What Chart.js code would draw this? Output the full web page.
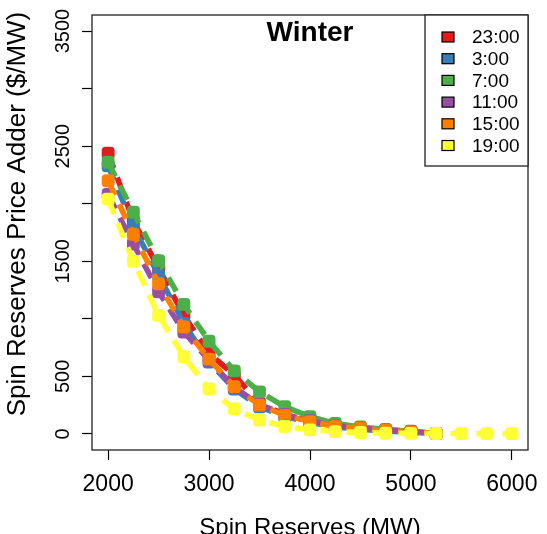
<!DOCTYPE html>
<html>
<head>
<meta charset="utf-8">
<script src="https://cdn.jsdelivr.net/npm/chart.js@4/dist/chart.umd.min.js"></script>
<style>
  html, body { margin: 0; padding: 0; background: #fff; }
  #wrap { width: 547px; height: 534px; position: relative; }
</style>
</head>
<body>
<div id="wrap"><canvas id="chart"></canvas></div>
<script>
// data
const reserves = [2000, 2250, 2500, 2750, 3000, 3250, 3500, 3750, 4000, 4250, 4500, 4750, 5000, 5250, 5500, 5750, 6000];
const hour2300 = [2440, 1850, 1440, 1030, 700, 510, 265, 170, 110, 70, 45, 30, 18, 3];
const hour0300 = [2330, 1800, 1380, 960, 625, 390, 235, 150, 100, 60, 40, 25, 15, 3];
const hour0700 = [2360, 1926, 1505, 1125, 805, 548, 365, 237, 150, 90, 60, 38, 22, 3];
const hour1100 = [2080, 1650, 1235, 885, 640, 405, 255, 170, 115, 70, 50, 35, 24, 3];
const hour1500 = [2200, 1735, 1305, 930, 650, 410, 250, 160, 107, 65, 48, 32, 18, 3];
const hour1900 = [2040, 1500, 1030, 670, 390, 216, 120, 65, 35, 20, 12, 6, 4, 3, 2, 2, 2];

const seriesNames = ['23:00', '3:00', '7:00', '11:00', '15:00', '19:00'];
const seriesValues = [hour2300, hour0300, hour0700, hour1100, hour1500, hour1900];
const seriesColors = ['#E41A1C', '#377EB8', '#4DAF4A', '#984EA3', '#FF7F00', '#FFFF33'];

const xTicks = [2000, 3000, 4000, 5000, 6000];
const yTicks = [0, 500, 1000, 1500, 2000, 2500, 3000, 3500];
const yTickLabels = ['0', '500', '', '1500', '', '2500', '', '3500'];

const FONT = '"Liberation Sans", Arial, sans-serif';

function toPoints(vals) {
    return vals.map((v, i) => ({x: reserves[i], y: v}));
}

const datasets = seriesValues.map((vals, i) => ({
    label: seriesNames[i],
    data: toPoints(vals),
    borderColor: seriesColors[i],
    backgroundColor: seriesColors[i],
    borderWidth: 5.5,
    borderDash: [16, 10],
    pointStyle: 'rectRounded',
    pointRadius: 7.5,
    pointBorderWidth: 0,
    pointBackgroundColor: seriesColors[i],
    tension: 0,
    order: -i // later series on top, like R
}));

// box round the plot, title inside it, y title and the legend in the corner
const rPlotBits = {
    id: 'rPlotBits',
    afterDraw(chart) {
        const {ctx, chartArea: a} = chart;
        ctx.save();
        ctx.strokeStyle = '#222';
        ctx.lineWidth = 1.3;
        ctx.strokeRect(a.left, a.top, a.right - a.left, a.bottom - a.top);

        ctx.fillStyle = '#000';
        ctx.font = 'bold 28px ' + FONT;
        ctx.textAlign = 'center';
        ctx.textBaseline = 'middle';
        ctx.fillText('Winter', (a.left + a.right) / 2, a.top + 18);

        // y axis title
        ctx.save();
        ctx.translate(18, 214);
        ctx.rotate(-Math.PI / 2);
        ctx.font = '26px ' + FONT;
        ctx.fillText('Spin Reserves Price Adder ($/MW)', 0, 0);
        ctx.restore();

        // legend
        const lx = 425, ly = a.top, lw = a.right - lx, lh = 151;
        ctx.fillStyle = '#fff';
        ctx.fillRect(lx, ly, lw, lh);
        ctx.strokeRect(lx, ly, lw, lh);
        ctx.font = '19px ' + FONT;
        ctx.textAlign = 'left';
        seriesNames.forEach((name, i) => {
            const cy = ly + 22 + i * 21.7;
            ctx.fillStyle = seriesColors[i];
            ctx.fillRect(442, cy - 5, 12, 10);
            ctx.strokeStyle = '#000';
            ctx.lineWidth = 1.2;
            ctx.strokeRect(442, cy - 5, 12, 10);
            ctx.fillStyle = '#000';
            ctx.fillText(name, 472, cy + 1);
        });
        ctx.restore();
    }
};

const tickGrid = {
    drawOnChartArea: false,
    drawTicks: true,
    tickLength: 10,
    tickColor: '#000',
    tickWidth: 1.2
};

const chart = new Chart(document.getElementById('chart'), {
    type: 'line',
    data: {datasets: datasets},
    options: {
        responsive: true,
        maintainAspectRatio: false,
        animation: false,
        layout: {padding: {left: 0, top: 15, right: 19, bottom: 0}},
        plugins: {
            legend: {display: false},
            tooltip: {enabled: false}
        },
        scales: {
            x: {
                type: 'linear',
                min: 1840,
                max: 6160,
                afterBuildTicks: s => { s.ticks = xTicks.map(v => ({value: v})); },
                ticks: {
                    font: {family: FONT, size: 23},
                    color: '#000',
                    padding: 11,
                    maxRotation: 0,
                    autoSkip: false,
                    callback: v => String(v)
                },
                grid: tickGrid,
                border: {display: false},
                title: {
                    display: true,
                    text: 'Spin Reserves (MW)',
                    color: '#000',
                    font: {family: FONT, size: 24},
                    padding: {top: 0, bottom: -9}
                },
                afterFit: s => {
                    s.height = 84;
                    s.paddingLeft = 0;
                    s.paddingRight = 0;
                }
            },
            y: {
                type: 'linear',
                min: -140,
                max: 3640,
                afterBuildTicks: s => { s.ticks = yTicks.map(v => ({value: v})); },
                ticks: {
                    font: {family: FONT, size: 20},
                    color: '#000',
                    minRotation: 90,
                    maxRotation: 90,
                    crossAlign: 'center',
                    padding: -4,
                    autoSkip: false,
                    callback: (v) => {
                        const k = yTicks.indexOf(v);
                        return k >= 0 ? yTickLabels[k] : '';
                    }
                },
                grid: tickGrid,
                border: {display: false},
                afterFit: s => {
                    s.width = 92;
                    s.paddingTop = 0;
                    s.paddingBottom = 0;
                }
            }
        }
    },
    plugins: [rPlotBits]
});
</script>
</body>
</html>
